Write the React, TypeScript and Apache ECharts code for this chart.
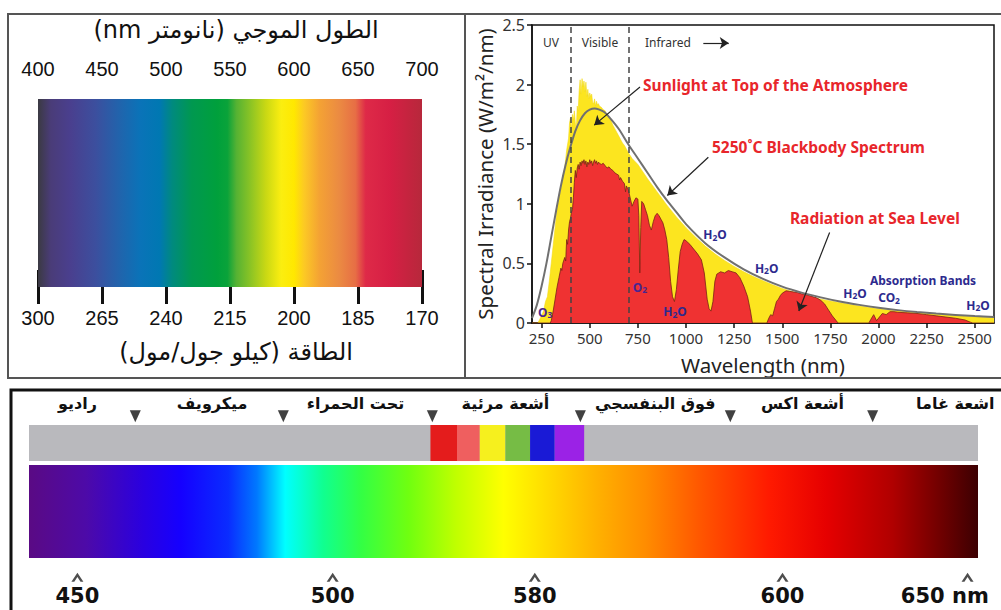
import React, { useEffect, useRef } from 'react';
import * as echarts from 'echarts';

// ---------- Top-left panel: visible spectrum bar ----------
const wavelengthMin = 400;
const wavelengthMax = 700;
const energyLabels = ['300', '265', '240', '215', '200', '185', '170'];
const barStopNm = [400, 410, 425, 445, 465, 480, 495, 505, 520, 540, 548, 555, 565, 578, 590, 600, 608, 620, 635, 648, 656, 675, 700];
const barStopColor = ['#3b3a42', '#4a3c78', '#4a3f8e', '#3c4f9e', '#1f65ad', '#0a73b8', '#0078b2', '#008a7e', '#009850', '#00a03c', '#0aa33a', '#55b233', '#86c226', '#c9d814', '#fbee10', '#ffe800', '#fcc924', '#f4a234', '#eb8b42', '#e76e45', '#de2a48', '#d61f44', '#b7283b'];

// ---------- Top-right panel: solar spectrum ----------
const xTickValues = [250, 500, 750, 1000, 1250, 1500, 1750, 2000, 2250, 2500];

const topOfAtmosphere: [number, number][] = [
  [200, 0], [230, 0], [240, 0.03], [250, 0.06], [260, 0.1], [270, 0.18], [280, 0.22], [290, 0.35], [300, 0.5],
  [310, 0.65], [320, 0.8], [330, 0.95], [340, 1.05], [350, 1.12], [360, 1.22], [370, 1.3], [380, 1.45], [390, 1.55], [395, 1.68],
  [400, 1.72], [405, 1.62], [410, 1.75], [415, 1.7], [420, 1.78], [425, 1.68], [430, 1.62], [435, 1.82], [440, 1.78], [445, 1.95],
  [450, 2.04], [455, 1.92], [460, 2.05], [465, 1.98], [470, 2.03], [475, 1.94], [480, 2.02], [485, 1.9], [490, 1.96], [495, 1.88],
  [500, 1.93], [505, 1.9], [510, 1.92], [515, 1.85], [520, 1.84], [525, 1.88], [530, 1.82], [535, 1.86], [540, 1.83], [545, 1.84],
  [550, 1.82], [560, 1.81], [570, 1.79], [580, 1.78], [590, 1.74], [600, 1.72], [610, 1.7], [620, 1.66], [630, 1.63], [640, 1.6],
  [650, 1.57], [660, 1.54], [670, 1.51], [680, 1.49], [690, 1.46], [700, 1.43], [720, 1.38], [750, 1.33], [800, 1.21], [850, 1.1],
  [900, 0.99], [950, 0.89], [1000, 0.8], [1050, 0.72], [1100, 0.645], [1150, 0.58], [1200, 0.525], [1250, 0.475], [1300, 0.43], [1350, 0.39],
  [1400, 0.355], [1450, 0.32], [1500, 0.29], [1550, 0.265], [1600, 0.24], [1650, 0.22], [1700, 0.2], [1750, 0.185], [1800, 0.17], [1900, 0.143],
  [2000, 0.12], [2100, 0.1], [2200, 0.085], [2300, 0.073], [2400, 0.062], [2500, 0.052], [2600, 0.045],
];

const seaLevel: [number, number][] = [
  [200, 0], [295, 0], [300, 0.02], [310, 0.1], [320, 0.2], [330, 0.3], [340, 0.38], [350, 0.46], [355, 0.44], [360, 0.5],
  [370, 0.55], [375, 0.52], [380, 0.7], [385, 0.66], [390, 0.78], [395, 0.85], [400, 0.88], [405, 0.93], [410, 0.95], [415, 1.05],
  [420, 1.18], [425, 1.28], [430, 1.22], [435, 1.3], [440, 1.33], [445, 1.29], [450, 1.35], [455, 1.32], [460, 1.36], [465, 1.34],
  [470, 1.37], [475, 1.33], [480, 1.36], [485, 1.31], [490, 1.35], [495, 1.33], [500, 1.37], [505, 1.34], [510, 1.36], [515, 1.32],
  [520, 1.35], [525, 1.37], [530, 1.34], [535, 1.36], [540, 1.33], [545, 1.35], [550, 1.34], [560, 1.33], [570, 1.34], [580, 1.32],
  [590, 1.3], [600, 1.31], [610, 1.29], [620, 1.28], [630, 1.26], [640, 1.25], [650, 1.24], [655, 1.2], [660, 1.22], [670, 1.19],
  [680, 1.17], [686, 1.1], [690, 1.15], [700, 1.12], [710, 1.05], [720, 0.98], [730, 1.02], [740, 1.05], [750, 1.04], [755, 0.9],
  [760, 0.42], [765, 0.8], [770, 1.02], [780, 1.0], [790, 0.95], [800, 0.9], [810, 0.82], [820, 0.78], [830, 0.85], [840, 0.9],
  [850, 0.92], [860, 0.9], [870, 0.87], [880, 0.84], [890, 0.78], [900, 0.7], [910, 0.55], [920, 0.35], [930, 0.22], [940, 0.18],
  [950, 0.28], [960, 0.45], [970, 0.6], [980, 0.66], [990, 0.7], [1000, 0.69], [1020, 0.66], [1040, 0.62], [1060, 0.58], [1080, 0.53],
  [1095, 0.42], [1110, 0.2], [1120, 0.12], [1130, 0.1], [1140, 0.18], [1150, 0.35], [1160, 0.41], [1180, 0.43], [1200, 0.42], [1220, 0.44],
  [1240, 0.43], [1260, 0.42], [1280, 0.38], [1300, 0.31], [1320, 0.22], [1335, 0.1], [1345, 0], [1420, 0], [1430, 0.04], [1440, 0.07],
  [1450, 0.06], [1460, 0.12], [1470, 0.18], [1480, 0.2], [1490, 0.23], [1500, 0.25], [1520, 0.27], [1540, 0.265], [1560, 0.26], [1580, 0.255],
  [1600, 0.245], [1620, 0.24], [1640, 0.23], [1660, 0.22], [1680, 0.21], [1700, 0.19], [1720, 0.16], [1740, 0.11], [1760, 0.06], [1780, 0.02],
  [1790, 0], [1950, 0], [1960, 0.03], [1975, 0.07], [1990, 0.02], [2005, 0.05], [2020, 0.08], [2040, 0.07], [2060, 0.095], [2080, 0.095],
  [2100, 0.09], [2150, 0.085], [2200, 0.08], [2250, 0.07], [2300, 0.06], [2350, 0.05], [2400, 0.04], [2450, 0.025], [2480, 0.005], [2490, 0],
  [2600, 0],
];

const blackbody: [number, number][] = [
  [200, 0.04], [225, 0.15], [250, 0.31], [275, 0.5], [300, 0.72], [325, 0.94], [350, 1.15], [375, 1.33], [400, 1.48], [425, 1.61],
  [450, 1.7], [475, 1.76], [500, 1.79], [525, 1.8], [550, 1.79], [575, 1.77], [600, 1.73], [650, 1.63], [700, 1.5], [750, 1.38],
  [800, 1.26], [850, 1.14], [900, 1.03], [950, 0.93], [1000, 0.83], [1100, 0.67], [1200, 0.55], [1300, 0.45], [1400, 0.37], [1500, 0.305],
  [1600, 0.255], [1700, 0.215], [1800, 0.18], [1900, 0.152], [2000, 0.128], [2100, 0.108], [2200, 0.092], [2300, 0.079], [2400, 0.068],
  [2500, 0.058], [2600, 0.05],
];

const regionDividersNm = [400, 700];
const regionText = ['UV', 'Visible', 'Infrared'];
const regionTextNm = [299, 553, 906];
const regionTextVal = [2.35, 2.35, 2.35];

const annotationText = ['Sunlight at Top of the Atmosphere', '5250˚C Blackbody Spectrum', 'Radiation at Sea Level'];
const annotationNm = [777, 1135, 1540];
const annotationVal = [2.0, 1.48, 0.88];

// arrows: [fromNm, fromVal, toNm, toVal]
const arrowLines = [
  [761, 1.98, 523, 1.66],
  [1116, 1.39, 903, 1.07],
  [1746, 0.76, 1586, 0.1],
  [1090, 2.35, 1222, 2.35],
];

const gasText = ['O{s|3}', 'O{s|2}', 'H{s|2}O', 'H{s|2}O', 'H{s|2}O', 'H{s|2}O', 'CO{s|2}', 'Absorption Bands', 'H{s|2}O'];
const gasNm = [268, 761, 943, 1151, 1419, 1878, 2055, 2231, 2517];
const gasVal = [0.09, 0.3, 0.095, 0.74, 0.46, 0.25, 0.21, 0.36, 0.15];

// ---------- Bottom panel: electromagnetic spectrum strip ----------
const regionNames = ['راديو', 'ميكرويف', 'تحت الحمراء', 'أشعة مرئية', 'فوق البنفسجي', 'أشعة اكس', 'اشعة غاما'];
const regionLabelPos = [5.1, 19.3, 34.4, 50.2, 66.0, 81.5, 97.6];
const regionBoundaryPos = [11.2, 26.8, 42.5, 58.1, 73.9, 88.9];
const visibleBandEdges = [42.3, 45.1, 47.5, 50.2, 52.8, 55.4, 58.5];
const visibleBandColors = ['#e41c1c', '#ef5f5f', '#f6f01e', '#76bc45', '#1a1ad6', '#9b22e6'];
const spectrumStopPos = [0, 6, 12, 16, 21, 24, 27, 31, 35, 40, 45, 50, 55, 60, 65, 71, 78, 84, 91, 96, 100];
const spectrumStopColor = ['#5a0a84', '#4d0aa8', '#2a00e0', '#1500ff', '#0a2cff', '#0078ff', '#00ffff', '#10ff90', '#33ff44', '#70ff10', '#c0ff00', '#ffff00', '#ffd800', '#ffb000', '#ff8c00', '#ff5400', '#ff1a00', '#e60000', '#b00000', '#700000', '#3c0002'];
const wlTickPos = [5.1, 32.0, 53.3, 79.4, 98.9];
const wlLabelPos = [5.1, 32.0, 53.3, 79.4, 96.5];
const wlLabels = ['450', '500', '580', '600', '650 nm'];

const FONT_AR = "'DejaVu Sans', sans-serif";
const FONT_NUM = "'Liberation Sans', Arial, sans-serif";
const FONT_CH = "'Noto Sans', 'Open Sans', sans-serif";
const RLE = '\u202B';
const PDF = '\u202C';

function textSeries(xAxisIndex: number, yAxisIndex: number, data: number[][], styleFor: (i: number) => any) {
  return {
    type: 'custom',
    xAxisIndex,
    yAxisIndex,
    silent: true,
    z: 20,
    clip: false,
    data,
    renderItem: (_p: any, api: any) => {
      const pt = api.coord([api.value(0), api.value(1)]);
      const s = styleFor(api.value(2));
      return { type: 'text', x: pt[0], y: pt[1], style: s };
    },
  };
}

function buildOption(): any {
  const barStops = barStopNm.map((nm, i) => ({
    offset: (nm - wavelengthMin) / (wavelengthMax - wavelengthMin),
    color: barStopColor[i],
  }));
  const specStops = spectrumStopPos.map((p, i) => ({ offset: p / 100, color: spectrumStopColor[i] }));

  const STRIP_TOP = 1;
  const STRIP_BOT = 0.729;
  const SPEC_TOP = 0.699;
  const TRI_Y = 1.065;
  const LBL_Y = 1.165;
  const CARET_Y = -0.145;
  const NUM_Y = -0.285;

  return {
    animation: false,
    backgroundColor: '#ffffff',
    grid: [
      { left: 38, top: 99, width: 384, height: 188, show: false },
      { left: 532, top: 25, width: 462, height: 298, show: true, borderColor: '#111', borderWidth: 1.5, backgroundColor: '#fff' },
      { left: 29, top: 425, width: 949, height: 133, show: false },
    ],
    xAxis: [
      {
        gridIndex: 0, type: 'value', min: wavelengthMin, max: wavelengthMax, interval: 50, position: 'top',
        axisLine: { show: false },
        axisTick: { show: true, length: 17, lineStyle: { color: '#111', width: 3 } },
        axisLabel: { fontSize: 20, color: '#111', margin: 20, fontFamily: FONT_NUM },
        splitLine: { show: false },
      },
      {
        gridIndex: 0, type: 'category', data: energyLabels, boundaryGap: false, position: 'bottom',
        axisLine: { show: false },
        axisTick: { show: true, length: 17, interval: 0, lineStyle: { color: '#111', width: 3 } },
        axisLabel: { fontSize: 20, color: '#111', margin: 21, interval: 0, fontFamily: FONT_NUM },
        splitLine: { show: false },
      },
      {
        gridIndex: 1, type: 'value', min: 200, max: 2600,
        name: 'Wavelength (nm)', nameLocation: 'middle', nameGap: 31,
        nameTextStyle: { fontSize: 20.5, color: '#222', fontFamily: FONT_CH },
        axisLine: { show: true, lineStyle: { color: '#111', width: 1.5 } },
        axisTick: { show: true, customValues: xTickValues, length: 5, lineStyle: { color: '#111', width: 1.5 } },
        axisLabel: {
          customValues: xTickValues, fontSize: 15, color: '#333', margin: 7, fontFamily: FONT_CH,
          formatter: (v: number) => String(v),
        },
        splitLine: { show: false },
      },
      { gridIndex: 2, type: 'value', min: 0, max: 100, show: false },
    ],
    yAxis: [
      { gridIndex: 0, type: 'value', min: 0, max: 1, show: false },
      {
        gridIndex: 1, type: 'value', min: 0, max: 2.5, interval: 0.5,
        name: 'Spectral Irradiance (W/m²/nm)', nameLocation: 'middle', nameGap: 37,
        nameTextStyle: { fontSize: 20.5, color: '#222', fontFamily: FONT_CH },
        axisLine: { show: true, lineStyle: { color: '#111', width: 1.5 } },
        axisTick: { show: true, length: 5, lineStyle: { color: '#111', width: 1.5 } },
        axisLabel: { fontSize: 16, color: '#333', margin: 7, fontFamily: FONT_CH },
        splitLine: { show: false },
      },
      { gridIndex: 2, type: 'value', min: 0, max: 1, show: false },
    ],
    series: [
      // gradient visible bar
      {
        type: 'custom', xAxisIndex: 0, yAxisIndex: 0, silent: true,
        data: [[wavelengthMin, wavelengthMax]],
        encode: { x: [0, 1] },
        renderItem: (_p: any, api: any) => {
          const a = api.coord([api.value(0), 1]);
          const b = api.coord([api.value(1), 0]);
          return {
            type: 'rect',
            shape: { x: a[0], y: a[1], width: b[0] - a[0], height: b[1] - a[1] },
            style: { fill: new echarts.graphic.LinearGradient(0, 0, 1, 0, barStops) },
          };
        },
      },
      // top of atmosphere
      {
        type: 'line', xAxisIndex: 2, yAxisIndex: 1, data: topOfAtmosphere, symbol: 'none', z: 2,
        lineStyle: { width: 0.6, color: '#f4da18' },
        areaStyle: { color: '#fce51f', opacity: 1 },
      },
      // sea level
      {
        type: 'line', xAxisIndex: 2, yAxisIndex: 1, data: seaLevel, symbol: 'none', z: 3,
        lineStyle: { width: 0.8, color: '#7a2216' },
        areaStyle: { color: '#ef3232', opacity: 1 },
      },
      // blackbody
      {
        type: 'line', xAxisIndex: 2, yAxisIndex: 1, data: blackbody, symbol: 'none', smooth: 0.3, z: 4,
        lineStyle: { width: 2, color: '#707070' },
        markLine: {
          silent: true, symbol: ['none', 'arrow'], symbolSize: 9,
          label: { show: false },
          lineStyle: { color: '#222', width: 1.2, type: 'solid' },
          data: arrowLines.map((a) => [{ coord: [a[0], a[1]] }, { coord: [a[2], a[3]] }]),
        },
      },
      // dashed region dividers
      {
        type: 'line', xAxisIndex: 2, yAxisIndex: 1, data: [], z: 5,
        markLine: {
          silent: true, symbol: ['none', 'none'],
          label: { show: false },
          lineStyle: { color: '#444', width: 1.5, type: [6, 4] },
          data: regionDividersNm.map((nm) => ({ xAxis: nm })),
        },
      },
      // region labels
      textSeries(2, 1, regionText.map((_, i) => [regionTextNm[i], regionTextVal[i], i]), (i) => ({
        text: regionText[i], fill: '#333', fontSize: 12, fontFamily: FONT_CH,
        align: 'center', textAlign: 'center', verticalAlign: 'middle', textVerticalAlign: 'middle',
      })),
      // red annotations
      textSeries(2, 1, annotationText.map((_, i) => [annotationNm[i], annotationVal[i], i]), (i) => ({
        text: annotationText[i], fill: '#e8262b', fontSize: 15.5, fontWeight: 'bold', fontFamily: FONT_CH,
        align: 'left', textAlign: 'left', verticalAlign: 'middle', textVerticalAlign: 'middle',
      })),
      // gas labels
      textSeries(2, 1, gasText.map((_, i) => [gasNm[i], gasVal[i], i]), (i) => ({
        text: gasText[i], fill: i < 2 ? '#4a2590' : '#2d2a8e', fontSize: 12, fontWeight: 'bold', fontFamily: FONT_CH,
        align: 'center', textAlign: 'center', verticalAlign: 'middle', textVerticalAlign: 'middle',
        rich: { s: { fontSize: 8.5, fontWeight: 'bold', fill: i < 2 ? '#4a2590' : '#2d2a8e', fontFamily: FONT_CH, padding: [5, 0, 0, 0] } },
      })),
      // bottom: gray strip
      {
        type: 'custom', xAxisIndex: 3, yAxisIndex: 2, silent: true, z: 2,
        data: [[0, 100]], encode: { x: [0, 1] },
        renderItem: (_p: any, api: any) => {
          const a = api.coord([api.value(0), STRIP_TOP]);
          const b = api.coord([api.value(1), STRIP_BOT]);
          return {
            type: 'rect',
            shape: { x: a[0], y: a[1], width: b[0] - a[0], height: b[1] - a[1] },
            style: { fill: '#b9b9bd' },
          };
        },
      },
      // bottom: visible colour blocks
      {
        type: 'custom', xAxisIndex: 3, yAxisIndex: 2, silent: true, z: 3,
        data: visibleBandColors.map((_, i) => [visibleBandEdges[i], visibleBandEdges[i + 1], i]),
        encode: { x: [0, 1] },
        renderItem: (_p: any, api: any) => {
          const a = api.coord([api.value(0), STRIP_TOP]);
          const b = api.coord([api.value(1), STRIP_BOT]);
          return {
            type: 'rect',
            shape: { x: a[0], y: a[1], width: b[0] - a[0], height: b[1] - a[1] },
            style: { fill: visibleBandColors[api.value(2)] },
          };
        },
      },
      // bottom: continuous spectrum
      {
        type: 'custom', xAxisIndex: 3, yAxisIndex: 2, silent: true, z: 2,
        data: [[0, 100]], encode: { x: [0, 1] },
        renderItem: (_p: any, api: any) => {
          const a = api.coord([api.value(0), SPEC_TOP]);
          const b = api.coord([api.value(1), 0]);
          return {
            type: 'rect',
            shape: { x: a[0], y: a[1], width: b[0] - a[0], height: b[1] - a[1] },
            style: { fill: new echarts.graphic.LinearGradient(0, 0, 1, 0, specStops) },
          };
        },
      },
      // bottom: boundary triangles
      {
        type: 'scatter', xAxisIndex: 3, yAxisIndex: 2, silent: true, clip: false, z: 5,
        symbol: 'triangle', symbolRotate: 180, symbolSize: [11, 12],
        itemStyle: { color: '#111' },
        data: regionBoundaryPos.map((p) => [p, TRI_Y]),
      },
      // bottom: carets
      {
        type: 'scatter', xAxisIndex: 3, yAxisIndex: 2, silent: true, clip: false, z: 5,
        symbol: 'path://M0,9 L5,0 L10,9 L7.6,9 L5,4.2 L2.4,9 Z', symbolSize: [12, 9],
        itemStyle: { color: '#222' },
        data: wlTickPos.map((p) => [p, CARET_Y]),
      },
      // bottom: region names
      textSeries(3, 2, regionNames.map((_, i) => [regionLabelPos[i], LBL_Y, i]), (i) => ({
        text: regionNames[i], fill: '#111', fontSize: 16, fontWeight: 'bold', fontFamily: FONT_AR,
        align: 'center', textAlign: 'center', verticalAlign: 'middle', textVerticalAlign: 'middle',
      })),
      // bottom: wavelength numbers
      textSeries(3, 2, wlLabels.map((_, i) => [wlLabelPos[i], NUM_Y, i]), (i) => ({
        text: wlLabels[i], fill: '#111', fontSize: 21, fontWeight: 'bold', fontFamily: FONT_AR,
        align: 'center', textAlign: 'center', verticalAlign: 'middle', textVerticalAlign: 'middle',
      })),
    ],
    graphic: [
      { type: 'rect', shape: { x: 8, y: 14, width: 457, height: 364 }, style: { fill: 'none', stroke: '#555', lineWidth: 2 }, z: 50 },
      { type: 'rect', shape: { x: 465, y: 14, width: 560, height: 364 }, style: { fill: 'none', stroke: '#555', lineWidth: 2 }, z: 50 },
      { type: 'polyline', shape: { points: [[11, 640], [11, 390], [1010, 390]] }, style: { fill: 'none', stroke: '#111', lineWidth: 3 }, z: 50 },
      {
        type: 'text', x: 236, y: 30, z: 50,
        style: {
          text: RLE + 'الطول الموجي (نانومتر nm)' + PDF, fill: '#111', fontSize: 24, fontFamily: FONT_AR,
          align: 'center', textAlign: 'center', verticalAlign: 'middle', textVerticalAlign: 'middle',
        },
      },
      {
        type: 'text', x: 236, y: 352, z: 50,
        style: {
          text: RLE + 'الطاقة (كيلو جول/مول)' + PDF, fill: '#111', fontSize: 24, fontFamily: FONT_AR,
          align: 'center', textAlign: 'center', verticalAlign: 'middle', textVerticalAlign: 'middle',
        },
      },
    ],
  };
}

export default function App() {
  const ref = useRef<HTMLDivElement>(null);
  useEffect(() => {
    if (!ref.current) return;
    const chart = echarts.init(ref.current, null, { renderer: 'svg' });
    chart.setOption(buildOption());
    return () => chart.dispose();
  }, []);
  return (
    <div
      ref={ref}
      style={{ position: 'fixed', left: 0, top: 0, width: 1001, height: 610, background: '#fff' }}
    />
  );
}
